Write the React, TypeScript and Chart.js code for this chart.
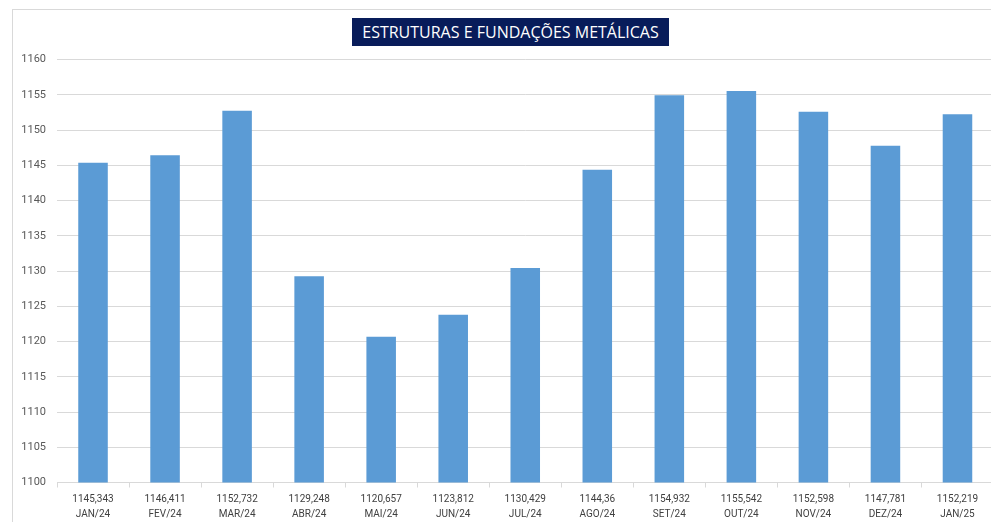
import React, { useEffect, useRef } from "react";
import { Chart, registerables } from "chart.js";

Chart.register(...registerables);

const months = ["JAN/24", "FEV/24", "MAR/24", "ABR/24", "MAI/24", "JUN/24", "JUL/24", "AGO/24", "SET/24", "OUT/24", "NOV/24", "DEZ/24", "JAN/25"];
const valueLabels = ["1145,343", "1146,411", "1152,732", "1129,248", "1120,657", "1123,812", "1130,429", "1144,36", "1154,932", "1155,542", "1152,598", "1147,781", "1152,219"];
const values = [1145.343, 1146.411, 1152.732, 1129.248, 1120.657, 1123.812, 1130.429, 1144.36, 1154.932, 1155.542, 1152.598, 1147.781, 1152.219];
const yMin = 1100;
const yMax = 1160;
const yStep = 5;
const title = "ESTRUTURAS E FUNDAÇÕES METÁLICAS";

export default function App() {
  const ref = useRef<HTMLCanvasElement | null>(null);
  useEffect(() => {
    if (!ref.current) return;
    const labels = months.map((m, i) => [valueLabels[i], m]);
    const chart = new Chart(ref.current, {
      type: "bar",
      data: {
        labels,
        datasets: [
          {
            data: values,
            backgroundColor: "#5B9BD5",
            borderWidth: 0,
            barPercentage: 0.41,
            categoryPercentage: 1,
          },
        ],
      },
      options: {
        animation: false,
        responsive: false,
        maintainAspectRatio: false,
        devicePixelRatio: 1,
        layout: { padding: { top: 59.5, right: 6.5, left: 0, bottom: 0 } },
        plugins: { legend: { display: false }, tooltip: { enabled: false }, title: { display: false } },
        scales: {
          x: {
            afterFit: (s: any) => { s.height = 39.5; },
            grid: { display: true, drawOnChartArea: false, drawTicks: true, tickLength: 5, color: "#D9D9D9", offset: true },
            border: { display: true, color: "#D9D9D9" },
            ticks: {
              color: "#404040",
              font: { family: "Roboto", size: 10, lineHeight: 1.5 },
              padding: 4,
              maxRotation: 0,
              autoSkip: false,
            },
          },
          y: {
            min: yMin,
            max: yMax,
            afterFit: (s: any) => { s.width = 57; },
            grid: { color: "#D9D9D9", drawTicks: false },
            border: { display: false },
            ticks: {
              stepSize: yStep,
              color: "#595959",
              font: { family: "Roboto", size: 11 },
              padding: 11,
              callback: (v: any) => String(v),
            },
          },
        },
      },
    });
    return () => chart.destroy();
  }, []);

  return (
    <div style={{ position: "fixed", left: 0, top: 0, width: 991, height: 522, overflow: "hidden", background: "#fff" }}>
      <div style={{ position: "absolute", left: 12, top: 9, width: 1000, height: 600, borderLeft: "1px solid #D9D9D9", borderTop: "1px solid #D9D9D9" }} />
      <canvas ref={ref} width={1000} height={522} style={{ position: "absolute", left: 0, top: 0, width: 1000, height: 522 }} />
      <div
        style={{
          position: "absolute",
          left: 352,
          top: 18,
          width: 317,
          height: 28,
          background: "#081C5A",
          color: "#fff",
          fontFamily: "'Open Sans', sans-serif",
          fontSize: 16,
          fontWeight: 500,
          lineHeight: "28px",
          textAlign: "center",
          whiteSpace: "nowrap",
        }}
      >
        {title}
      </div>
    </div>
  );
}
